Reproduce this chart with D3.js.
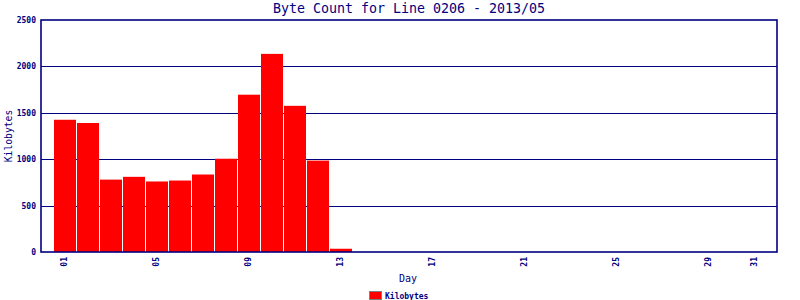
<!DOCTYPE html>
<html>
<head>
  <meta charset="utf-8">
  <style>
    body { margin: 0; background: white; }
    svg { display: block; }
    text { font-family: "DejaVu Sans Mono", monospace; fill: #000080; }
  </style>
</head>
<body>
  <svg id="chart"></svg>
  <script src="https://cdn.jsdelivr.net/npm/d3@7"></script>
  <script>
    // data (kilobytes per day, May 2013)
    var days = ["01","02","03","04","05","06","07","08","09","10","11","12","13","14","15","16",
                "17","18","19","20","21","22","23","24","25","26","27","28","29","30","31"];
    var kilobytes = [1425, 1390, 780, 810, 760, 770, 835, 1005, 1695, 2135, 1575, 985, 35,
                     0, 0, 0, 0, 0, 0, 0, 0, 0, 0, 0, 0, 0, 0, 0, 0, 0, 0];
    var shownDays = ["01","05","09","13","17","21","25","29","31"];
    var yTicks = [0, 500, 1000, 1500, 2000, 2500];

    var width = 800, height = 300;
    var plot = { left: 41, right: 777, top: 20, bottom: 252 };
    var navy = "#000080";

    var svg = d3.select("#chart").attr("width", width).attr("height", height);

    var x = d3.scaleBand()
      .domain(days)
      .range([54, 54 + 23 * 31 - 1])
      .paddingInner(1 / 23)
      .paddingOuter(0);

    var y = d3.scaleLinear()
      .domain([0, 2500])
      .range([plot.bottom, plot.top]);

    // gridlines
    svg.append("g").selectAll("line")
      .data(yTicks.filter(function(d){ return d > 0 && d < 2500; }))
      .join("line")
      .attr("x1", plot.left).attr("x2", plot.right)
      .attr("y1", function(d){ return Math.round(y(d)) + 0.5; })
      .attr("y2", function(d){ return Math.round(y(d)) + 0.5; })
      .attr("stroke", navy).attr("stroke-width", 1.2);

    // bars
    svg.append("g").selectAll("rect")
      .data(kilobytes)
      .join("rect")
      .attr("x", function(d, i){ return x(days[i]); })
      .attr("width", x.bandwidth())
      .attr("y", function(d){ return y(d); })
      .attr("height", function(d){ return y(0) - y(d); })
      .attr("fill", "#ff0000");

    // frame
    svg.append("rect")
      .attr("x", plot.left).attr("y", plot.top)
      .attr("width", plot.right - plot.left).attr("height", plot.bottom - plot.top)
      .attr("fill", "none").attr("stroke", navy).attr("stroke-width", 1.6);

    // y axis labels
    var yAxis = d3.axisLeft(y).tickValues(yTicks).tickFormat(d3.format("d")).tickSize(0).tickPadding(5);
    var gy = svg.append("g").attr("transform", "translate(" + plot.left + ",0)").call(yAxis);
    gy.select(".domain").remove();
    gy.selectAll("text")
      .style("font-size", "8px").style("font-weight", "bold")
      .attr("fill", navy);

    // x axis labels (rotated)
    var xAxis = d3.axisBottom(x).tickValues(shownDays).tickSize(0);
    var gx = svg.append("g").attr("transform", "translate(0," + plot.bottom + ")").call(xAxis);
    gx.select(".domain").remove();
    gx.selectAll("text")
      .attr("transform", "rotate(-90)")
      .attr("x", -5).attr("y", -1)
      .attr("dy", "0.35em")
      .style("text-anchor", "end")
      .style("font-size", "8px").style("font-weight", "bold")
      .attr("fill", navy);

    // title
    svg.append("text")
      .attr("x", 409).attr("y", 13)
      .attr("text-anchor", "middle")
      .style("font-size", "13.3px")
      .text("Byte Count for Line 0206 - 2013/05");

    // axis titles
    svg.append("text")
      .attr("x", 408).attr("y", 282)
      .attr("text-anchor", "middle")
      .style("font-size", "10px")
      .text("Day");

    svg.append("text")
      .attr("transform", "translate(12,136) rotate(-90)")
      .attr("text-anchor", "middle")
      .style("font-size", "9.7px")
      .text("Kilobytes");

    // legend
    var legend = svg.append("g").attr("transform", "translate(369,291)");
    legend.append("rect")
      .attr("x", 0.5).attr("y", 0.5)
      .attr("width", 12).attr("height", 8)
      .attr("fill", "#ff0000").attr("stroke", "#808080");
    legend.append("text")
      .attr("x", 16).attr("y", 7.5)
      .style("font-size", "8px").style("font-weight", "bold")
      .text("Kilobytes");
  </script>
</body>
</html>
